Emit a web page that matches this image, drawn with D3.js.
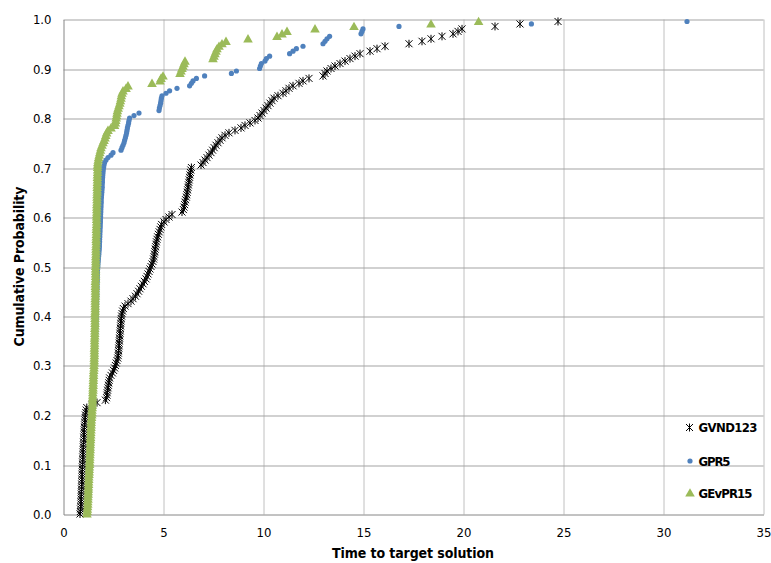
<!DOCTYPE html>
<html><head><meta charset="utf-8">
<script src="https://cdn.jsdelivr.net/npm/d3@7"></script>
<style>body{margin:0;background:#fff;} svg{display:block}</style>
</head><body><svg id="c" width="771" height="563"></svg>
<script>
// ---- data (times, sorted; plotted at rank positions (i-1)/n) ----
const seriesNames = ["GVND123", "GPR5", "GEvPR15"];

const gvnd123Times = [
0.85,0.87,0.88,0.89,0.90,0.90,0.91,0.91,0.92,0.92,
0.93,0.93,0.94,0.94,0.95,0.95,0.96,0.96,0.97,0.97,
0.98,0.98,0.99,0.99,1.00,1.00,1.01,1.02,1.02,1.03,
1.04,1.04,1.05,1.06,1.06,1.07,1.08,1.09,1.10,1.11,
1.12,1.14,1.16,1.19,
1.45,1.70,2.12,
2.18,2.20,2.21,2.23,2.25,2.27,2.29,2.31,2.33,
2.40,2.47,2.53,2.58,2.62,2.66,2.70,2.74,
2.76,2.77,2.78,2.79,2.80,2.81,2.82,2.83,2.84,2.85,2.86,2.87,2.88,2.89,2.90,2.91,2.93,2.95,
2.98,3.02,3.10,
3.25,3.40,3.50,3.62,
3.70,3.78,3.85,3.92,4.00,4.07,4.15,
4.20,4.25,4.30,4.35,4.40,4.45,4.50,
4.53,4.55,4.57,4.59,4.61,4.63,4.65,4.67,
4.70,4.73,4.77,4.81,4.85,4.89,4.93,
5.05,5.15,5.30,5.45,
5.95,
6.02,6.05,6.08,6.10,6.13,6.17,
6.19,6.21,6.23,6.25,6.27,6.29,6.31,6.33,6.35,6.37,6.39,6.42,
6.90,
7.00,7.10,7.20,7.30,
7.40,7.48,7.56,7.65,
7.75,7.85,7.95,8.10,
8.30,8.60,8.90,
9.10,9.35,9.60,
9.75,9.85,9.95,10.05,
10.15,10.25,10.35,10.45,
10.55,10.75,
11.00,11.15,11.30,
11.50,11.80,12.00,
12.30,
13.00,13.10,13.20,
13.40,13.60,13.85,
14.10,14.35,14.60,
14.85,15.35,15.70,16.10,
17.30,17.95,18.40,18.95,19.50,19.75,19.95,21.60,22.85,24.75
];

const gpr5Times = [
1.22,1.23,1.24,1.25,1.26,1.27,1.28,1.29,1.30,1.30,1.31,1.31,1.32,1.32,1.33,1.33,1.34,1.34,1.35,1.35,
1.36,1.36,1.37,1.37,1.38,1.38,1.39,1.39,1.40,1.40,1.41,1.41,1.42,1.42,1.43,1.43,1.44,1.44,1.45,1.45,
1.46,1.47,1.48,1.49,1.50,1.50,1.51,1.51,1.52,1.52,1.53,1.53,1.54,1.54,1.55,1.55,1.56,1.56,1.57,1.57,
1.58,1.58,1.59,1.59,1.60,1.60,1.61,1.61,1.62,1.62,1.63,1.63,1.63,1.64,1.64,1.64,1.65,1.65,1.65,1.66,
1.66,1.66,1.67,1.67,1.67,1.68,1.68,1.68,1.69,1.69,1.69,1.70,1.70,1.70,1.71,1.71,1.71,1.72,1.72,1.73,
1.74,1.75,1.76,1.77,1.78,1.79,1.80,1.81,1.82,1.82,
1.83,1.83,1.84,1.84,1.85,1.85,1.86,1.86,1.87,1.87,
1.88,1.88,1.89,1.89,1.90,1.90,1.91,1.91,1.92,1.93,
1.94,1.95,1.96,1.96,1.97,1.97,1.98,1.99,2.00,2.01,
2.03,2.05,2.08,
2.15,2.25,2.40,2.50,
2.90,2.95,
3.00,3.05,3.08,3.12,3.15,
3.18,3.20,3.22,3.25,
3.28,3.30,3.33,
3.55,3.80,
4.80,4.82,4.85,4.88,4.90,4.92,4.95,
5.15,5.33,5.70,6.33,6.42,6.50,6.67,7.08,
8.42,8.67,
9.83,9.87,9.92,10.10,10.17,10.33,
11.33,11.50,11.67,12.00,
13.00,13.10,13.20,13.33,
14.90,14.95,15.00,16.80,23.42,31.20
];

const gevpr15Times = [
1.20,1.21,1.22,1.23,1.24,1.24,1.25,1.25,1.26,1.26,1.27,1.27,1.28,1.28,1.29,1.29,1.30,1.31,1.31,1.32,
1.33,1.33,1.34,1.34,1.35,1.35,1.36,1.36,1.37,1.37,1.38,1.38,1.39,1.39,1.40,1.40,1.41,1.41,1.42,1.43,
1.44,1.45,1.45,1.46,1.47,1.47,1.48,1.48,1.49,1.49,1.50,1.50,1.51,1.51,1.52,1.52,1.53,1.53,1.54,1.55,
1.55,1.56,1.56,1.56,1.57,1.57,1.57,1.57,1.58,1.58,1.58,1.58,1.59,1.59,1.59,1.59,1.60,1.60,1.60,1.60,
1.60,1.60,1.61,1.61,1.61,1.61,1.61,1.61,1.62,1.62,1.62,1.62,1.62,1.62,1.62,1.63,1.63,1.63,1.63,1.63,
1.63,1.64,1.64,1.64,1.64,1.65,1.65,1.65,1.65,1.66,1.66,1.66,1.66,1.67,1.67,1.67,1.67,1.68,1.68,1.68,
1.68,1.68,1.69,1.69,1.69,1.69,1.70,1.70,1.70,1.70,1.71,1.71,1.71,1.71,1.72,1.72,1.72,1.72,1.73,1.73,1.73,1.73,
1.74,1.76,1.78,1.81,1.84,1.87,1.90,1.95,2.00,2.05,2.10,2.14,2.18,2.25,2.40,
2.58,2.62,2.64,2.66,2.68,2.70,2.72,2.76,2.80,2.84,2.87,2.90,2.92,2.95,3.00,3.15,3.25,
4.45,4.85,4.90,5.00,
5.85,5.90,5.95,6.00,6.05,6.10,
7.50,7.55,7.60,7.65,7.70,7.80,7.95,8.15,
9.25,10.70,10.95,11.20,12.60,14.55,18.40,20.78
];

const seriesColors = ["#000000", "#4f81bd", "#9bbb59"];
const xTickValues = [0, 5, 10, 15, 20, 25, 30, 35];
const yTickValues = [0.0, 0.1, 0.2, 0.3, 0.4, 0.5, 0.6, 0.7, 0.8, 0.9, 1.0];
const xTitle = "Time to target solution";
const yTitle = "Cumulative Probability";

// ---- drawing ----
const svg = d3.select("#c");
const L = 63, R = 763, T = 19, B = 514;
const x = d3.scaleLinear().domain([0, 35]).range([L, R]);
const y = d3.scaleLinear().domain([0, 1]).range([B, T]);
const xr = x.copy().interpolate(d3.interpolateRound);
const yr = y.copy().interpolate(d3.interpolateRound);
const FONT = "'DejaVu Sans Condensed','DejaVu Sans',sans-serif";

svg.append("rect").attr("width", 771).attr("height", 563).attr("fill", "#fff");

// vertical gridlines
const gx = svg.append("g").attr("transform", `translate(0.5,${T + 0.5})`)
  .call(d3.axisBottom(xr).tickValues(xTickValues.slice(1)).tickSize(B - T).tickFormat(""));
gx.select(".domain").remove();
gx.selectAll("line").attr("stroke", "#c0c0c0");

// horizontal gridlines
const gy = svg.append("g").attr("transform", `translate(${L + 0.5},0.5)`)
  .call(d3.axisRight(yr).tickValues(yTickValues.slice(1)).tickSize(R - L).tickFormat(""));
gy.select(".domain").remove();
gy.selectAll("line").attr("stroke", "#a3a3a3");

// axes with labels
const ax = svg.append("g").attr("transform", `translate(0.5,${B + 0.5})`)
  .call(d3.axisBottom(xr).tickValues(xTickValues).tickSize(0).tickSizeOuter(0).tickPadding(13).tickFormat(d3.format("d")));
ax.select(".domain").attr("stroke", "#868686");
ax.selectAll("text").attr("font-family", FONT).attr("font-size", 13).attr("fill", "#000");

const ay = svg.append("g").attr("transform", `translate(${L + 0.5},0.5)`)
  .call(d3.axisLeft(yr).tickValues(yTickValues).tickSize(0).tickSizeOuter(0).tickPadding(12).tickFormat(d3.format(".1f")));
ay.select(".domain").attr("stroke", "#868686");
ay.selectAll("text").attr("font-family", FONT).attr("font-size", 13).attr("fill", "#000");

// markers
const starPath = "M-3.5,-3.5L3.5,3.5M-3.5,3.5L3.5,-3.5M0,-4L0,4";
const triPath = "M0,-4.8L4.8,3.6L-4.8,3.6Z";
function toPts(times) {
  const n = times.length;
  return times.map((t, i) => ({ t: t, p: i / n }));
}
const plot = svg.append("g");
plot.append("g").selectAll("path").data(toPts(gvnd123Times)).join("path")
  .attr("d", starPath).attr("transform", d => `translate(${x(d.t)},${y(d.p)})`)
  .attr("stroke", seriesColors[0]).attr("stroke-width", 1).attr("fill", "none");
plot.append("g").selectAll("circle").data(toPts(gpr5Times)).join("circle")
  .attr("cx", d => x(d.t)).attr("cy", d => y(d.p)).attr("r", 2.6).attr("fill", seriesColors[1]);
plot.append("g").selectAll("path").data(toPts(gevpr15Times)).join("path")
  .attr("d", triPath).attr("transform", d => `translate(${x(d.t)},${y(d.p)})`)
  .attr("fill", seriesColors[2]);

// axis titles
svg.append("text").attr("x", (L + R) / 2).attr("y", 558).attr("text-anchor", "middle")
  .attr("font-family", FONT).attr("font-weight", "bold").attr("font-size", 14)
  .attr("textLength", 162).attr("lengthAdjust", "spacing").text(xTitle);
svg.append("text").attr("transform", `translate(24,${(T + B) / 2}) rotate(-90)`).attr("text-anchor", "middle")
  .attr("font-family", FONT).attr("font-weight", "bold").attr("font-size", 14)
  .attr("textLength", 160).attr("lengthAdjust", "spacing").text(yTitle);

// legend
const legendY = [427.5, 461, 493];
const legendW = [59, 32, 54];
const lg = svg.append("g");
seriesNames.forEach((name, i) => {
  const cy = legendY[i];
  if (i === 0) lg.append("path").attr("d", starPath).attr("transform", `translate(689.5,${cy})`).attr("stroke", "#000").attr("fill", "none");
  if (i === 1) lg.append("circle").attr("cx", 690).attr("cy", cy).attr("r", 2.6).attr("fill", seriesColors[1]);
  if (i === 2) lg.append("path").attr("d", triPath).attr("transform", `translate(690,${cy})`).attr("fill", seriesColors[2]);
  lg.append("text").attr("x", 698.5).attr("y", cy + 4.7).attr("font-family", FONT).attr("font-weight", "bold")
    .attr("font-size", 13).attr("textLength", legendW[i]).attr("lengthAdjust", "spacing").attr("fill", "#000").text(name);
});
</script></body></html>
